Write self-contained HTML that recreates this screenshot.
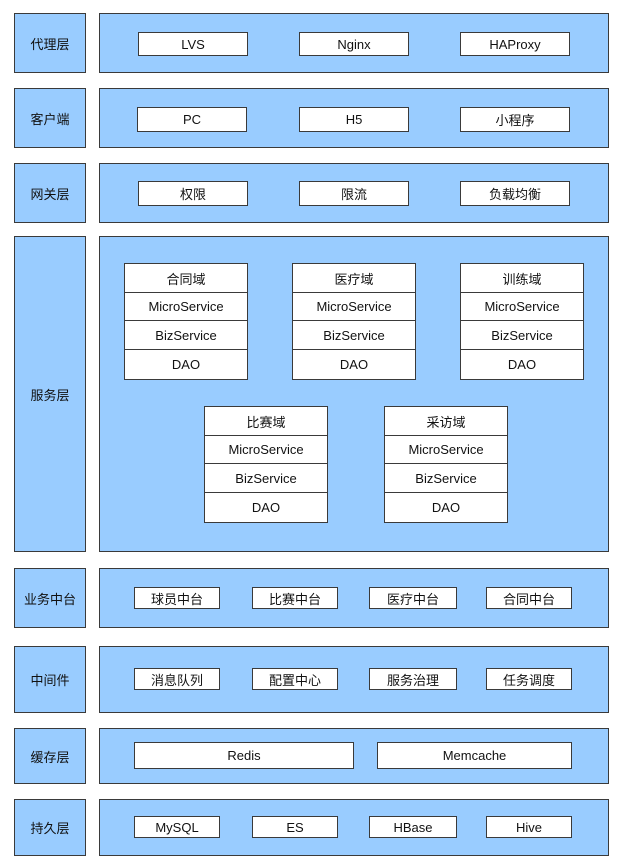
<!DOCTYPE html>
<html><head><meta charset="utf-8"><style>
body{margin:0;width:633px;height:867px;background:#fff;position:relative;overflow:hidden;font-family:"Liberation Sans","Noto Sans CJK SC",sans-serif;font-size:13px;color:#111}
div{position:absolute;box-sizing:border-box;display:flex;align-items:center;justify-content:center}
.b{background:#99ccff;border:1.5px solid #3a3a3a}
.w{background:#fff;border:1.5px solid #3a3a3a}
</style></head><body>
<!-- row1 -->
<div class="b" style="left:14px;top:13px;width:72px;height:60px">代理层</div>
<div class="b" style="left:99px;top:13px;width:510px;height:60px"></div>
<div class="w" style="left:138px;top:32px;width:110px;height:24px">LVS</div>
<div class="w" style="left:299px;top:32px;width:110px;height:24px">Nginx</div>
<div class="w" style="left:460px;top:32px;width:110px;height:24px">HAProxy</div>
<!-- row2 -->
<div class="b" style="left:14px;top:88px;width:72px;height:60px">客户端</div>
<div class="b" style="left:99px;top:88px;width:510px;height:60px"></div>
<div class="w" style="left:137px;top:107px;width:110px;height:25px">PC</div>
<div class="w" style="left:299px;top:107px;width:110px;height:25px">H5</div>
<div class="w" style="left:460px;top:107px;width:110px;height:25px">小程序</div>
<!-- row3 -->
<div class="b" style="left:14px;top:163px;width:72px;height:60px">网关层</div>
<div class="b" style="left:99px;top:163px;width:510px;height:60px"></div>
<div class="w" style="left:138px;top:181px;width:110px;height:25px">权限</div>
<div class="w" style="left:299px;top:181px;width:110px;height:25px">限流</div>
<div class="w" style="left:460px;top:181px;width:110px;height:25px">负载均衡</div>
<!-- row4 -->
<div class="b" style="left:14px;top:236px;width:72px;height:316px">服务层</div>
<div class="b" style="left:99px;top:236px;width:510px;height:316px"></div>

<div class="w" style="left:124px;top:263px;width:124px;height:30px">合同域</div>
<div class="w" style="left:124px;top:292px;width:124px;height:29px">MicroService</div>
<div class="w" style="left:124px;top:320px;width:124px;height:30px">BizService</div>
<div class="w" style="left:124px;top:349px;width:124px;height:31px">DAO</div>

<div class="w" style="left:292px;top:263px;width:124px;height:30px">医疗域</div>
<div class="w" style="left:292px;top:292px;width:124px;height:29px">MicroService</div>
<div class="w" style="left:292px;top:320px;width:124px;height:30px">BizService</div>
<div class="w" style="left:292px;top:349px;width:124px;height:31px">DAO</div>

<div class="w" style="left:460px;top:263px;width:124px;height:30px">训练域</div>
<div class="w" style="left:460px;top:292px;width:124px;height:29px">MicroService</div>
<div class="w" style="left:460px;top:320px;width:124px;height:30px">BizService</div>
<div class="w" style="left:460px;top:349px;width:124px;height:31px">DAO</div>

<div class="w" style="left:204px;top:406px;width:124px;height:30px">比赛域</div>
<div class="w" style="left:204px;top:435px;width:124px;height:29px">MicroService</div>
<div class="w" style="left:204px;top:463px;width:124px;height:30px">BizService</div>
<div class="w" style="left:204px;top:492px;width:124px;height:31px">DAO</div>

<div class="w" style="left:384px;top:406px;width:124px;height:30px">采访域</div>
<div class="w" style="left:384px;top:435px;width:124px;height:29px">MicroService</div>
<div class="w" style="left:384px;top:463px;width:124px;height:30px">BizService</div>
<div class="w" style="left:384px;top:492px;width:124px;height:31px">DAO</div>
<!-- row5 -->
<div class="b" style="left:14px;top:568px;width:72px;height:60px">业务中台</div>
<div class="b" style="left:99px;top:568px;width:510px;height:60px"></div>
<div class="w" style="left:134px;top:587px;width:86px;height:22px">球员中台</div>
<div class="w" style="left:252px;top:587px;width:86px;height:22px">比赛中台</div>
<div class="w" style="left:369px;top:587px;width:88px;height:22px">医疗中台</div>
<div class="w" style="left:486px;top:587px;width:86px;height:22px">合同中台</div>
<!-- row6 -->
<div class="b" style="left:14px;top:646px;width:72px;height:67px">中间件</div>
<div class="b" style="left:99px;top:646px;width:510px;height:67px"></div>
<div class="w" style="left:134px;top:668px;width:86px;height:22px">消息队列</div>
<div class="w" style="left:252px;top:668px;width:86px;height:22px">配置中心</div>
<div class="w" style="left:369px;top:668px;width:88px;height:22px">服务治理</div>
<div class="w" style="left:486px;top:668px;width:86px;height:22px">任务调度</div>
<!-- row7 -->
<div class="b" style="left:14px;top:728px;width:72px;height:56px">缓存层</div>
<div class="b" style="left:99px;top:728px;width:510px;height:56px"></div>
<div class="w" style="left:134px;top:742px;width:220px;height:27px">Redis</div>
<div class="w" style="left:377px;top:742px;width:195px;height:27px">Memcache</div>
<!-- row8 -->
<div class="b" style="left:14px;top:799px;width:72px;height:57px">持久层</div>
<div class="b" style="left:99px;top:799px;width:510px;height:57px"></div>
<div class="w" style="left:134px;top:816px;width:86px;height:22px">MySQL</div>
<div class="w" style="left:252px;top:816px;width:86px;height:22px">ES</div>
<div class="w" style="left:369px;top:816px;width:88px;height:22px">HBase</div>
<div class="w" style="left:486px;top:816px;width:86px;height:22px">Hive</div>
</body></html>
